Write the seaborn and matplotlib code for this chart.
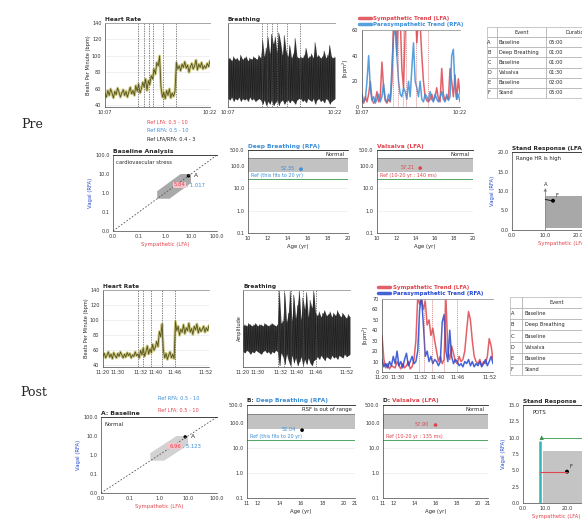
import numpy as np
import matplotlib
matplotlib.use("Agg")
import matplotlib.pyplot as plt
import seaborn as sns

W, H = 582, 529

# heart rate (bpm), pre session, one value every 0.2 min from 10:07
hr_pre = [54, 50, 58, 52, 60, 55, 49, 57, 53, 61, 56, 50, 55, 59, 52, 57, 50, 56, 62, 54, 58,
          52, 64, 57, 66, 55, 60, 68,
          62, 72, 58, 70, 65, 76,
          72, 84, 78, 92, 88, 100,
          62, 50, 56, 48, 58, 52, 60, 49, 55, 51, 57,
          92, 84, 88, 82, 90, 86, 93, 85, 89, 80, 87, 91, 84, 88, 95, 83, 90, 86, 92, 84, 88, 85, 91, 87, 94]
# post session, evenly spread over the recording
hr_post = [52, 56, 50, 54, 58, 51, 55, 49, 57, 53, 50, 56, 52, 58, 54, 50, 55, 51, 57, 53, 56, 50, 54, 52, 58, 53, 55,
           50, 60, 54, 63, 52, 58, 66, 55, 62, 57, 68, 60, 64,
           72, 65, 85, 78, 95,
           60, 50, 56, 48, 54, 58, 50, 55, 49,
           98, 86, 92, 80, 88, 84, 94, 82, 90, 86, 96, 84, 89, 81, 92, 87, 95, 83, 90, 85, 88, 92, 84, 90, 86, 93]

# breathing trace envelopes (arbitrary units)
breath_pre_hi = [0.4, 0.5, 0.3, 0.6, 0.4, 0.5, 0.3, 0.7, 0.4, 0.5, 0.6, 0.3, 0.5, 0.4, 0.6, 0.5, 0.4, 0.7, 0.5,
                 1.8, 0.6, 1.2, 2.0, 0.8, 2.2, 1.5, 2.0, 0.9, 2.3, 1.6, 0.7, 2.1, 1.0, 0.6, 1.4, 0.5, 0.8, 1.9, 0.6, 0.5,
                 0.6, 0.5, 0.7, 1.2, 0.5, 0.6, 0.8, 0.5, 1.6, 0.6, 0.7, 0.5, 0.6, 1.0, 0.5, 0.7, 1.4, 0.6, 0.5, 0.6]
breath_pre_lo = [-2.4, -2.5, -2.3, -2.6, -2.4, -2.5, -2.3, -2.6, -2.4, -2.5, -2.4, -2.6, -2.3, -2.5, -2.4, -2.6, -2.5, -2.4, -2.5,
                 -2.8, -2.5, -2.9, -2.6, -2.8, -2.5, -2.9, -2.7, -2.5, -2.9, -2.6, -2.5, -2.8, -2.6, -2.5, -2.7, -2.5, -2.6, -2.8, -2.5, -2.4,
                 -2.4, -2.6, -2.5, -2.7, -2.4, -2.5, -2.6, -2.4, -2.8, -2.5, -2.4, -2.6, -2.5, -2.7, -2.4, -2.5, -2.8, -2.6, -2.5, -2.4]
breath_post_hi = [0.2, 0.3, 0.2, 0.4, 0.3, 0.2, 0.3, 0.4, 0.2, 0.3, 0.3, 0.2, 0.4, 0.3, 0.2, 0.3, 0.4, 0.3, 0.2, 0.3,
                  2.9, 0.4, 0.6, 2.8, 0.5, 1.2, 2.9, 0.6, 2.6, 0.8, 1.8, 2.9, 0.7, 2.4, 1.5, 2.8, 0.9, 2.2, 1.6, 2.9, 1.2,
                  1.0, 1.3, 0.9, 1.2, 1.4, 1.0, 1.1, 1.3, 0.9, 1.2, 1.0, 1.4, 1.1, 0.9, 1.2, 1.0, 0.8, 1.1, 0.9]
breath_post_lo = [-1.8, -1.9, -1.7, -1.8, -2.0, -1.8, -1.9, -1.7, -1.8, -1.9, -2.0, -1.8, -1.7, -1.9, -1.8, -2.0, -1.8, -1.9, -1.7, -1.8,
                  -2.9, -1.9, -2.2, -2.8, -2.0, -2.5, -2.9, -2.1, -2.7, -2.3, -2.9, -2.6, -2.2, -2.9, -2.4, -2.8, -2.3, -2.7, -2.9, -2.5, -2.4,
                  -2.2, -2.4, -2.1, -2.3, -2.5, -2.2, -2.3, -2.4, -2.1, -2.3, -2.2, -2.4, -2.1, -2.2, -2.3, -2.0, -2.2, -2.1, -2.0]

# sympathetic / parasympathetic trends [bpm^2]
lfa_pre = [5, 3, 8, 4, 10, 20, 6, 3, 5, 12, 4, 8, 35, 15, 5, 3, 6, 4, 20, 70,
           75, 40, 80, 70, 30, 15, 60, 75, 80, 65, 75, 70, 80, 50, 70, 65, 40, 20, 8, 5,
           4, 6, 10, 5, 8, 15, 6, 4, 30, 10, 5, 8, 6, 30, 20, 8, 25, 6, 22, 10]
rfa_pre = [10, 4, 6, 20, 40, 15, 5, 8, 3, 6, 10, 4, 8, 18, 6, 4, 10, 5, 30, 55,
           62, 40, 20, 10, 8, 15, 12, 6, 20, 8, 30, 50, 20, 15, 8, 20, 6, 4, 10, 8,
           5, 12, 6, 4, 10, 6, 4, 8, 12, 6, 4, 10, 5, 8, 40, 45, 15, 6, 10, 4]
lfa_post = [35, 12, 4, 8, 3, 6, 5, 4, 10, 6, 3, 8, 4, 6, 10, 3, 5, 12,
            30, 72, 65, 70, 60, 68, 45, 50, 35, 42, 30, 20, 10, 15, 8, 12, 70, 20,
            12, 25, 18, 10, 8, 15, 10, 12, 20, 40, 58, 50, 30, 15, 10, 8, 12, 6, 10, 8, 15, 32, 25, 12]
rfa_post = [12, 5, 8, 4, 10, 6, 15, 8, 20, 6, 10, 4, 12, 18, 6, 10, 15, 8,
            10, 20, 60, 72, 45, 15, 20, 10, 15, 8, 12, 10, 6, 10, 48, 55, 20, 10,
            40, 15, 8, 12, 10, 6, 8, 5, 10, 8, 12, 6, 10, 5, 8, 6, 10, 5, 8, 12, 6, 10, 15, 8]

events_pre = [4.77, 5.5, 6.23, 6.8, 8.3, 10.1]
events_post = [0.33, 0.38, 0.45, 0.56, 0.68]
pre_ticks = [0, 15]
pre_ticklabels = ["10:07", "10:22"]
post_ticks = [0.0, 0.14, 0.35, 0.5, 0.68, 0.97]
post_ticklabels = ["11:20", "11:30", "11:32", "11:40", "11:46", "11:52"]

event_codes = ["A", "B", "C", "D", "E", "F"]
event_names = ["Baseline", "Deep Breathing", "Baseline", "Valsalva", "Baseline", "Stand"]
event_durations = ["05:00", "01:00", "01:00", "01:30", "02:00", "05:00"]

# baseline analysis references and results
ref_lfa = [0.5, 10]
ref_rfa = [0.5, 10]
ref_ratio = [0.4, 3]
log_ticks = [0.01, 0.1, 1, 10, 100]
log_ticklabels = ["0.0", "0.1", "1.0", "10.0", "100.0"]
base_pre_point = [8.0, 8.0]
base_post_point = [8.0, 9.0]
base_pre_vals = ["5.84", "1.017"]
base_post_vals = ["6.96", "5.123"]

# deep breathing / valsalva vs age
age_ticks_pre = [10, 12, 14, 16, 18, 20]
age_ticks_post = [11, 12, 14, 16, 18, 20, 21]
db_ticks = [0.1, 1, 10, 100, 500]
db_ticklabels = ["0.1", "1.0", "10.0", "100.0", "500.0"]
normal_band = [55, 210]
db_pre = [15.3, 70, "52.35"]
vals_pre = [14.5, 78, "57.21"]
db_post = [16.1, 50, "52.04"]
vals_post = [16.0, 80, "57.90"]
ref_line_pre = 25
ref_line_post = 20

# stand response
stand_pre_A = [10, 10.3]
stand_pre_F = [12.3, 7.5]
stand_post_A = [8.5, 10]
stand_post_F = [20, 4.8]

sns.set_theme(style="white")
plt.rcParams["font.family"] = ["DejaVu Sans"]
plt.rcParams["font.size"] = 4

fig = plt.figure(figsize=(W / 100, H / 100), dpi=100)
fig.patch.set_facecolor("white")

RED = "#e0444e"
BLUE = "#3b8ed8"
DBLUE = "#2448d0"
GREEN = "#4fa865"


def panel(x0, y0, x1, y1):
    ax = fig.add_axes([x0 / W, 1 - y1 / H, (x1 - x0) / W, (y1 - y0) / H])
    ax.set_facecolor("white")
    ax.tick_params(labelsize=3.6, length=1.5, width=0.4, pad=1, colors="#333333")
    for s in ["left", "bottom"]:
        ax.spines[s].set_linewidth(0.5)
        ax.spines[s].set_color("#444444")
    ax.spines["right"].set_visible(False)
    ax.spines["top"].set_color("#999999")
    ax.spines["top"].set_linewidth(0.6)
    return ax


def event_lines(ax, events):
    for e in events:
        ax.axvline(e, color="#555555", ls=(0, (2, 1.5)), lw=0.5)


def hr_panel(box, x_end, hr, events, ticks, labels):
    ax = panel(*box)
    t = np.linspace(0, x_end, len(hr))
    sns.lineplot(x=t, y=hr, ax=ax, color="#cfc985", lw=2.0)
    sns.lineplot(x=t, y=hr, ax=ax, color="#55531a", lw=0.6)
    event_lines(ax, events)
    ax.set_xlim(0, x_end)
    ax.set_ylim(38, 140)
    ax.set_yticks([40, 60, 80, 100, 120, 140])
    ax.yaxis.grid(True, color="#e4e4e4", lw=0.4)
    ax.set_xticks(ticks, labels)
    ax.set_ylabel("Beats Per Minute (bpm)", fontsize=3.6, labelpad=1)
    ax.set_title("Heart Rate", loc="left", fontsize=4.2, fontweight="bold", pad=1.5)
    return ax


def breath_panel(box, x_end, hi, lo, events, ticks, labels, ylabel=None):
    ax = panel(*box)
    t = np.linspace(0, x_end, len(hi))
    step = t[1] - t[0]
    ax.fill_between(t, lo, hi, color="#3c3c3c", lw=0)
    xs = np.column_stack([t, t + step / 2]).ravel()
    ys = np.column_stack([hi, lo]).ravel()
    sns.lineplot(x=xs, y=ys, ax=ax, color="#1e1e1e", lw=0.4)
    event_lines(ax, events)
    ax.set_xlim(0, x_end)
    ax.set_ylim(-3, 3)
    ax.set_yticks([])
    ax.set_xticks(ticks, labels)
    if ylabel:
        ax.set_ylabel(ylabel, fontsize=3.6, labelpad=1)
    ax.set_title("Breathing", loc="left", fontsize=4.2, fontweight="bold", pad=1.5)
    return ax


def trend_panel(box, x_end, lfa, rfa, events, ticks, labels, ymax, blue):
    ax = panel(*box)
    t = np.linspace(0, x_end, len(lfa))
    sns.lineplot(x=t, y=lfa, ax=ax, color=RED, lw=1.1, alpha=0.85, label="Sympathetic Trend (LFA)")
    sns.lineplot(x=t, y=rfa, ax=ax, color=blue, lw=1.1, alpha=0.85, label="Parasympathetic Trend (RFA)")
    for e in events:
        ax.axvline(e, color="#c85050", ls=(0, (2, 1.5)), lw=0.4)
    ax.set_xlim(0, x_end)
    ax.set_ylim(0, ymax)
    ax.set_yticks(np.arange(0, ymax + 1, 20 if ymax == 60 else 10))
    ax.set_xticks(ticks, labels)
    ax.set_ylabel("[bpm$^2$]", fontsize=3.6, labelpad=1)
    leg = ax.legend(loc="lower left", bbox_to_anchor=(-0.06, 1.0), frameon=False, fontsize=4,
                    handlelength=2.2, handletextpad=0.4, borderaxespad=0.1, labelspacing=0.15)
    for line in leg.get_lines():
        line.set_linewidth(2.5)
    for txt, c in zip(leg.get_texts(), [RED, blue]):
        txt.set_color(c)
        txt.set_fontweight("bold")
    return ax


def event_table(box, col_widths):
    x0, y0, x1, y1 = box
    ax = fig.add_axes([x0 / W, 1 - y1 / H, (x1 - x0) / W, (y1 - y0) / H])
    ax.axis("off")
    cells = [[c, n, d] for c, n, d in zip(event_codes, event_names, event_durations)]
    tbl = ax.table(cellText=cells, colLabels=["", "Event", "Duration"], colWidths=col_widths,
                   bbox=[0, 0, 1, 1], cellLoc="left")
    tbl.auto_set_font_size(False)
    tbl.set_fontsize(3.6)
    for (r, c), cell in tbl.get_celld().items():
        cell.set_edgecolor("#a0a0a0")
        cell.set_linewidth(0.4)
        cell.PAD = 0.04
        if r == 0:
            cell.get_text().set_ha("center")
            cell._loc = "center"


def baseline_panel(box, point, vals, title, note, poly_color):
    ax = panel(*box)
    ax.set_xscale("log")
    ax.set_yscale("log")
    ax.set_xlim(log_ticks[0], log_ticks[-1])
    ax.set_ylim(log_ticks[0], log_ticks[-1])
    lo_x, hi_x = ref_lfa
    lo_y, hi_y = ref_rfa
    r_lo, r_hi = ref_ratio
    px = [lo_x, lo_y * r_hi, hi_x, hi_x, hi_y * r_lo, lo_x]
    py = [lo_y, lo_y, hi_x / r_hi, hi_y, hi_y, lo_x / r_lo]
    ax.fill(px, py, color=poly_color, lw=0)
    sns.lineplot(x=[log_ticks[0], log_ticks[-1]], y=[log_ticks[0], log_ticks[-1]], ax=ax,
                 color="#555555", lw=0.6, linestyle=(0, (2, 2)))
    sns.scatterplot(x=[point[0]], y=[point[1]], ax=ax, color="black", s=6, edgecolor="none")
    ax.text(point[0] * 1.6, point[1], "A", fontsize=4.2, va="center")
    red = ax.text(point[0] * 0.45, point[1] * 0.33, vals[0], color=RED, fontsize=3.8, ha="center",
                  va="center", bbox=dict(boxstyle="square,pad=0.15", fc="#f6c4cb", ec="none"))
    ax.annotate(" , " + vals[1], xy=(1, 0.5), xycoords=red, color=BLUE, fontsize=3.8,
                ha="left", va="center")
    ax.set_xticks(log_ticks, log_ticklabels)
    ax.set_yticks(log_ticks, log_ticklabels)
    ax.minorticks_off()
    ax.tick_params(which="minor", length=0)
    ax.spines["top"].set_color("#222222")
    ax.text(0.03, 0.93, note, transform=ax.transAxes, fontsize=3.8, va="top")
    ax.set_xlabel("Sympathetic (LFA)", color=RED, fontsize=3.8, labelpad=1.5)
    ax.set_ylabel("Vagal (RFA)", color=DBLUE, fontsize=3.8, labelpad=1.5)
    ax.set_title(title, loc="left", fontsize=4.4, fontweight="bold", pad=1.5)
    return ax


def age_panel(box, xlim, xticks, point, color, title_parts, note, ref_text, ref_line, point_color):
    ax = panel(*box)
    ax.set_yscale("log")
    ax.set_ylim(db_ticks[0], db_ticks[-1])
    ax.set_xlim(*xlim)
    ax.axhspan(normal_band[0], normal_band[1], color="#c2c2c2", lw=0)
    ax.axhline(normal_band[1], color="#6e6e6e", lw=0.5)
    ax.axhline(ref_line, color=GREEN, lw=0.7)
    ax.text(0.03, ref_line * 1.15, ref_text, transform=ax.get_yaxis_transform(), color=color,
            fontsize=3.5, va="bottom")
    ax.text(0.97, normal_band[1] * 1.2, note, transform=ax.get_yaxis_transform(), ha="right",
            va="bottom", fontsize=3.8)
    sns.scatterplot(x=[point[0]], y=[point[1]], ax=ax, color=point_color, s=7, edgecolor="none")
    ax.text(point[0] - 0.6, point[1] * 1.05, point[2], color=color, fontsize=3.6, ha="right", va="center")
    ax.set_yticks(db_ticks, db_ticklabels)
    ax.minorticks_off()
    ax.tick_params(which="minor", length=0)
    ax.set_xticks(xticks, [str(v) for v in xticks])
    ax.yaxis.grid(True, color="#e8e8e8", lw=0.4)
    ax.spines["top"].set_color("#222222")
    ax.set_xlabel("Age (yr)", fontsize=3.8, labelpad=1.5)
    prev = ax.text(0.0, 1.03, title_parts[0][0], transform=ax.transAxes, color=title_parts[0][1],
                   fontsize=4.2, fontweight="bold")
    for txt, c in title_parts[1:]:
        prev = ax.annotate(txt, xy=(1, 0), xycoords=prev, color=c, fontsize=4.2,
                           fontweight="bold", va="bottom")
    return ax


# ---------- Pre ----------
fig.text(32 / W, 1 - 125 / H, "Pre", fontsize=9, family="DejaVu Serif", ha="center", va="center")
fig.text(34 / W, 1 - 392 / H, "Post", fontsize=9, family="DejaVu Serif", ha="center", va="center")

hr_panel((105, 23, 210, 107), 15, hr_pre, events_pre, pre_ticks, pre_ticklabels)
breath_panel((228, 23, 335, 107), 15, breath_pre_hi, breath_pre_lo, events_pre, pre_ticks, pre_ticklabels)
trend_panel((362, 30, 460, 107), 15, lfa_pre, rfa_pre, events_pre, pre_ticks, pre_ticklabels, 60, BLUE)
event_table((487, 27, 606, 98), [10, 49, 60])

baseline_panel((113, 155, 217, 231), base_pre_point, base_pre_vals, "Baseline Analysis",
               "cardiovascular stress", "#a9a9a9")
fig.text(147 / W, 1 - 123 / H, "Ref LFA: 0.5 - 10", color=RED, fontsize=3.6, va="center")
fig.text(147 / W, 1 - 131 / H, "Ref RFA: 0.5 - 10", color=BLUE, fontsize=3.6, va="center")
fig.text(147 / W, 1 - 139 / H, "Ref LFA/RFA: 0.4 - 3", color="#222222", fontsize=3.6, va="center")

age_panel((248, 150, 348, 233), (10, 20), age_ticks_pre, db_pre, BLUE,
          [("Deep Breathing (RFA)", BLUE)], "Normal", "Ref (this fits to 20 yr)", ref_line_pre, BLUE)
age_panel((377, 150, 473, 233), (10, 20), age_ticks_pre, vals_pre, RED,
          [("Valsalva (LFA)", RED)], "Normal", "Ref (10-20 yr : 140 ms)", ref_line_pre, RED)

ax = panel(512, 152, 612, 230)
ax.set_xlim(0, 30)
ax.set_ylim(0, 20)
ax.axvspan(stand_pre_A[0], 30, ymin=0.5 / 20, ymax=8.6 / 20, color="#a8a8a8", lw=0)
ax.vlines(stand_pre_A[0], 0, stand_pre_A[1], color="#888888", lw=0.6)
sns.scatterplot(x=[stand_pre_A[0]], y=[stand_pre_A[1]], ax=ax, color="#777777", marker="^", s=6, edgecolor="none")
sns.lineplot(x=[stand_pre_A[0], stand_pre_F[0]], y=[stand_pre_F[1] + 0.3, stand_pre_F[1]], ax=ax,
             color="black", lw=0.6)
sns.scatterplot(x=[stand_pre_F[0]], y=[stand_pre_F[1]], ax=ax, color="black", s=8, edgecolor="none")
ax.text(stand_pre_A[0], stand_pre_A[1] + 0.6, "A", fontsize=3.8, ha="center", va="bottom")
ax.text(stand_pre_F[0] + 0.8, stand_pre_F[1] + 0.6, "F", fontsize=3.8, va="bottom")
ax.text(0.04, 0.95, "Range HR is high", transform=ax.transAxes, fontsize=3.8, va="top")
ax.set_yticks([0, 5, 10, 15, 20], ["0.0", "5.0", "10.0", "15.0", "20.0"])
ax.set_xticks([0, 10, 20], ["0.0", "10.0", "20.0"])
ax.spines["top"].set_color("#222222")
ax.set_xlabel("Sympathetic (LFA)", color=RED, fontsize=3.8, labelpad=1.5)
ax.set_ylabel("Vagal (RFA)", color=DBLUE, fontsize=3.8, labelpad=1.5)
ax.set_title("Stand Response (LFA/RFA)", loc="left", fontsize=4.2, fontweight="bold", pad=1.5)

# ---------- Post ----------
hr_panel((103, 290, 209, 367), 1, hr_post, events_post, post_ticks, post_ticklabels)
breath_panel((243, 290, 350, 367), 1, breath_post_hi, breath_post_lo, events_post, post_ticks,
             post_ticklabels, ylabel="Amplitude")
trend_panel((382, 299, 493, 372), 1, lfa_post, rfa_post, events_post, post_ticks, post_ticklabels, 70, DBLUE)
event_table((510, 297, 652, 375), [12, 70, 60])

baseline_panel((101, 417, 217, 493), base_post_point, base_post_vals, "A: Baseline", "Normal", "#d2d2d2")
fig.text(158 / W, 1 - 399 / H, "Ref RFA: 0.5 - 10", color=BLUE, fontsize=3.6, va="center")
fig.text(158 / W, 1 - 410 / H, "Ref LFA: 0.5 - 10", color=RED, fontsize=3.6, va="center")

age_panel((247, 405, 355, 498), (11, 21), age_ticks_post, db_post, BLUE,
          [("B: ", "#222222"), ("Deep Breathing (RFA)", BLUE)], "RSF is out of range",
          "Ref (this fits to 20 yr)", ref_line_post, "black")
age_panel((383, 405, 488, 498), (11, 21), age_ticks_post, vals_post, RED,
          [("D: ", "#222222"), ("Valsalva (LFA)", RED)], "Normal", "Ref (10-20 yr : 135 ms)",
          ref_line_post, RED)

ax = panel(523, 405, 589, 503)
ax.set_xlim(0, 30)
ax.set_ylim(0, 15)
ax.axvspan(9, 30, ymin=0, ymax=8 / 15, color="#c4c4c4", lw=0)
ax.vlines(7.5, 0, 9.5, color="#35b5b5", lw=1.8)
ax.hlines(stand_post_A[1], stand_post_A[0], 30, color=GREEN, lw=0.7)
sns.scatterplot(x=[stand_post_A[0]], y=[stand_post_A[1]], ax=ax, color="#2e8b3e", marker="^", s=10, edgecolor="none")
sns.lineplot(x=[7.5, stand_post_F[0]], y=[stand_post_F[1], stand_post_F[1]], ax=ax, color=RED, lw=0.8)
sns.scatterplot(x=[stand_post_F[0]], y=[stand_post_F[1]], ax=ax, color="black", s=8, edgecolor="none")
ax.text(stand_post_F[0] + 1, stand_post_F[1] + 0.4, "F", fontsize=3.8, va="bottom")
ax.text(0.15, 0.95, "POTS", transform=ax.transAxes, fontsize=3.8, va="top")
ax.set_yticks([0, 2.5, 5, 7.5, 10, 12.5, 15], ["0.0", "2.5", "5.0", "7.5", "10.0", "12.5", "15.0"])
ax.set_xticks([0, 10, 20], ["0.0", "10.0", "20.0"])
ax.spines["top"].set_color("#222222")
ax.set_xlabel("Sympathetic (LFA)", color=RED, fontsize=3.8, labelpad=1.5)
ax.set_ylabel("Vagal (RFA)", color=DBLUE, fontsize=3.8, labelpad=1.5)
ax.set_title("Stand Response", loc="left", fontsize=4.2, fontweight="bold", pad=1.5)

fig.savefig("out.png", dpi=100, facecolor="white")
